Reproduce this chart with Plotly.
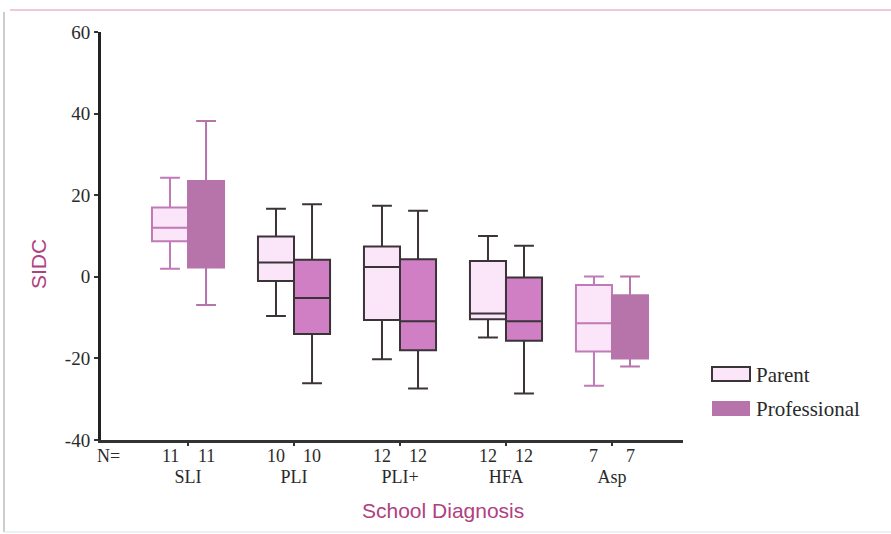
import plotly.graph_objects as go

# ---- data ----
categories = ["SLI", "PLI", "PLI+", "HFA", "Asp"]
n_parent = [11, 10, 12, 12, 7]
n_prof = [11, 10, 12, 12, 7]

# Parent: lower whisker, Q1, median, Q3, upper whisker
parent_low = [2.0, -9.6, -20.2, -14.9, -26.7]
parent_q1 = [8.7, -1.0, -10.6, -10.4, -18.3]
parent_med = [12.0, 3.5, 2.4, -9.0, -11.4]
parent_q3 = [17.0, 9.9, 7.4, 3.9, -2.0]
parent_high = [24.3, 16.7, 17.4, 10.0, 0.1]

# Professional
prof_low = [-6.9, -26.1, -27.4, -28.6, -22.0]
prof_q1 = [2.3, -14.0, -18.0, -15.7, -20.0]
prof_med = [12.0, -5.2, -10.9, -10.9, -12.0]
prof_q3 = [23.5, 4.2, 4.3, -0.2, -4.5]
prof_high = [38.2, 17.8, 16.2, 7.6, 0.1]

y_ticks = [-40, -20, 0, 20, 40, 60]
y_tick_text = ["-40", "-20", "0", "20", "40", "60"]

# ---- styles ----
PINK_LINE = "#c07ab6"
DARK_LINE = "#3a3338"
PARENT_FILL = "#fae6f8"
PROF_FILL_PINK = "#b674aa"
PROF_FILL_MAG = "#d07fc4"
TITLE_COLOR = "#b0407f"
SERIF = "Liberation Serif, Times New Roman, serif"
SANS = "Liberation Sans, Arial, sans-serif"
TXT = "#2a2a2a"

pink_style = [True, False, False, False, True]

fig = go.Figure()
off = 0.17
bw = 0.34
for i, cat in enumerate(categories):
    pink = pink_style[i]
    fig.add_trace(go.Box(
        x=[i - off], q1=[parent_q1[i]], median=[parent_med[i]], q3=[parent_q3[i]],
        lowerfence=[parent_low[i]], upperfence=[parent_high[i]],
        width=bw, whiskerwidth=0.55, fillcolor=PARENT_FILL,
        line=dict(color=PINK_LINE if pink else DARK_LINE, width=2),
        boxpoints=False, showlegend=False, hoverinfo="skip", name="Parent"))
    pf = PROF_FILL_PINK if pink else PROF_FILL_MAG
    fig.add_trace(go.Box(
        x=[i + off], q1=[prof_q1[i]], median=[prof_med[i]], q3=[prof_q3[i]],
        lowerfence=[prof_low[i]], upperfence=[prof_high[i]],
        width=bw, whiskerwidth=0.55, fillcolor=pf,
        line=dict(color=pf if pink else DARK_LINE, width=2),
        boxpoints=False, showlegend=False, hoverinfo="skip", name="Professional"))


def px2x(px):
    return (px - 101) / 582


def py2y(py):
    return (440 - py) / 408


# N labels
annotations = []
for i in range(len(categories)):
    annotations.append(dict(x=i - off, y=py2y(456), xref="x", yref="paper", text=str(n_parent[i]),
                            showarrow=False, yanchor="middle", font=dict(family=SERIF, size=18, color=TXT)))
    annotations.append(dict(x=i + off, y=py2y(456), xref="x", yref="paper", text=str(n_prof[i]),
                            showarrow=False, yanchor="middle", font=dict(family=SERIF, size=18, color=TXT)))
annotations.append(dict(x=px2x(95), y=py2y(456), xref="paper", yref="paper", text="N=",
                        showarrow=False, xanchor="left", yanchor="middle",
                        font=dict(family=SERIF, size=18, color=TXT)))

shapes = [
    dict(type="rect", xref="paper", yref="paper", x0=px2x(712), x1=px2x(750), y0=py2y(381), y1=py2y(367),
         fillcolor=PARENT_FILL, line=dict(color=DARK_LINE, width=2)),
    dict(type="rect", xref="paper", yref="paper", x0=px2x(712), x1=px2x(750), y0=py2y(416), y1=py2y(401),
         fillcolor=PROF_FILL_PINK, line=dict(width=0)),
    dict(type="line", xref="paper", yref="paper", x0=px2x(10), x1=px2x(891), y0=py2y(10), y1=py2y(10),
         line=dict(color="#f2c6dc", width=2)),
    dict(type="line", xref="paper", yref="paper", x0=px2x(4), x1=px2x(4), y0=py2y(12), y1=py2y(532),
         line=dict(color="#bcbcbc", width=1.5)),
    dict(type="line", xref="paper", yref="paper", x0=px2x(4), x1=px2x(891), y0=py2y(532), y1=py2y(532),
         line=dict(color="#e4eeee", width=1.5)),
]
annotations.append(dict(x=px2x(754), y=py2y(375), xref="paper", yref="paper", text="Parent",
                        showarrow=False, xanchor="left", yanchor="middle",
                        font=dict(family=SERIF, size=21, color=TXT)))
annotations.append(dict(x=px2x(754), y=py2y(409), xref="paper", yref="paper", text="Professional",
                        showarrow=False, xanchor="left", yanchor="middle",
                        font=dict(family=SERIF, size=21, color=TXT)))
# axis titles
annotations.append(dict(x=px2x(443), y=py2y(510), xref="paper", yref="paper", text="School Diagnosis",
                        showarrow=False, xanchor="center", yanchor="middle",
                        font=dict(family=SANS, size=21, color=TITLE_COLOR)))
annotations.append(dict(x=px2x(38), y=py2y(264), xref="paper", yref="paper", text="SIDC", textangle=-90,
                        showarrow=False, xanchor="center", yanchor="middle",
                        font=dict(family=SANS, size=21, color=TITLE_COLOR)))

fig.update_layout(
    width=891, height=534,
    margin=dict(l=101, r=208, t=32, b=94),
    paper_bgcolor="white", plot_bgcolor="white",
    boxmode="overlay",
    shapes=shapes, annotations=annotations,
    xaxis=dict(
        range=[-0.821, 4.670], tickmode="array", tickvals=list(range(len(categories))),
        ticktext=categories, ticks="outside", ticklen=3, tickwidth=2, tickcolor="#333",
        showline=True, linecolor="#333", linewidth=2.5, showgrid=False, zeroline=False,
        tickfont=dict(family=SERIF, size=18, color=TXT), ticklabelstandoff=16,
    ),
    yaxis=dict(
        range=[-40, 60], tickmode="array", tickvals=y_ticks, ticktext=y_tick_text,
        ticks="outside", ticklen=4, tickwidth=2,
        tickcolor="#333", showline=True, linecolor="#222", linewidth=3, showgrid=False, zeroline=False,
        tickfont=dict(family=SERIF, size=19, color=TXT),
    ),
)

fig.write_html("out.html")
